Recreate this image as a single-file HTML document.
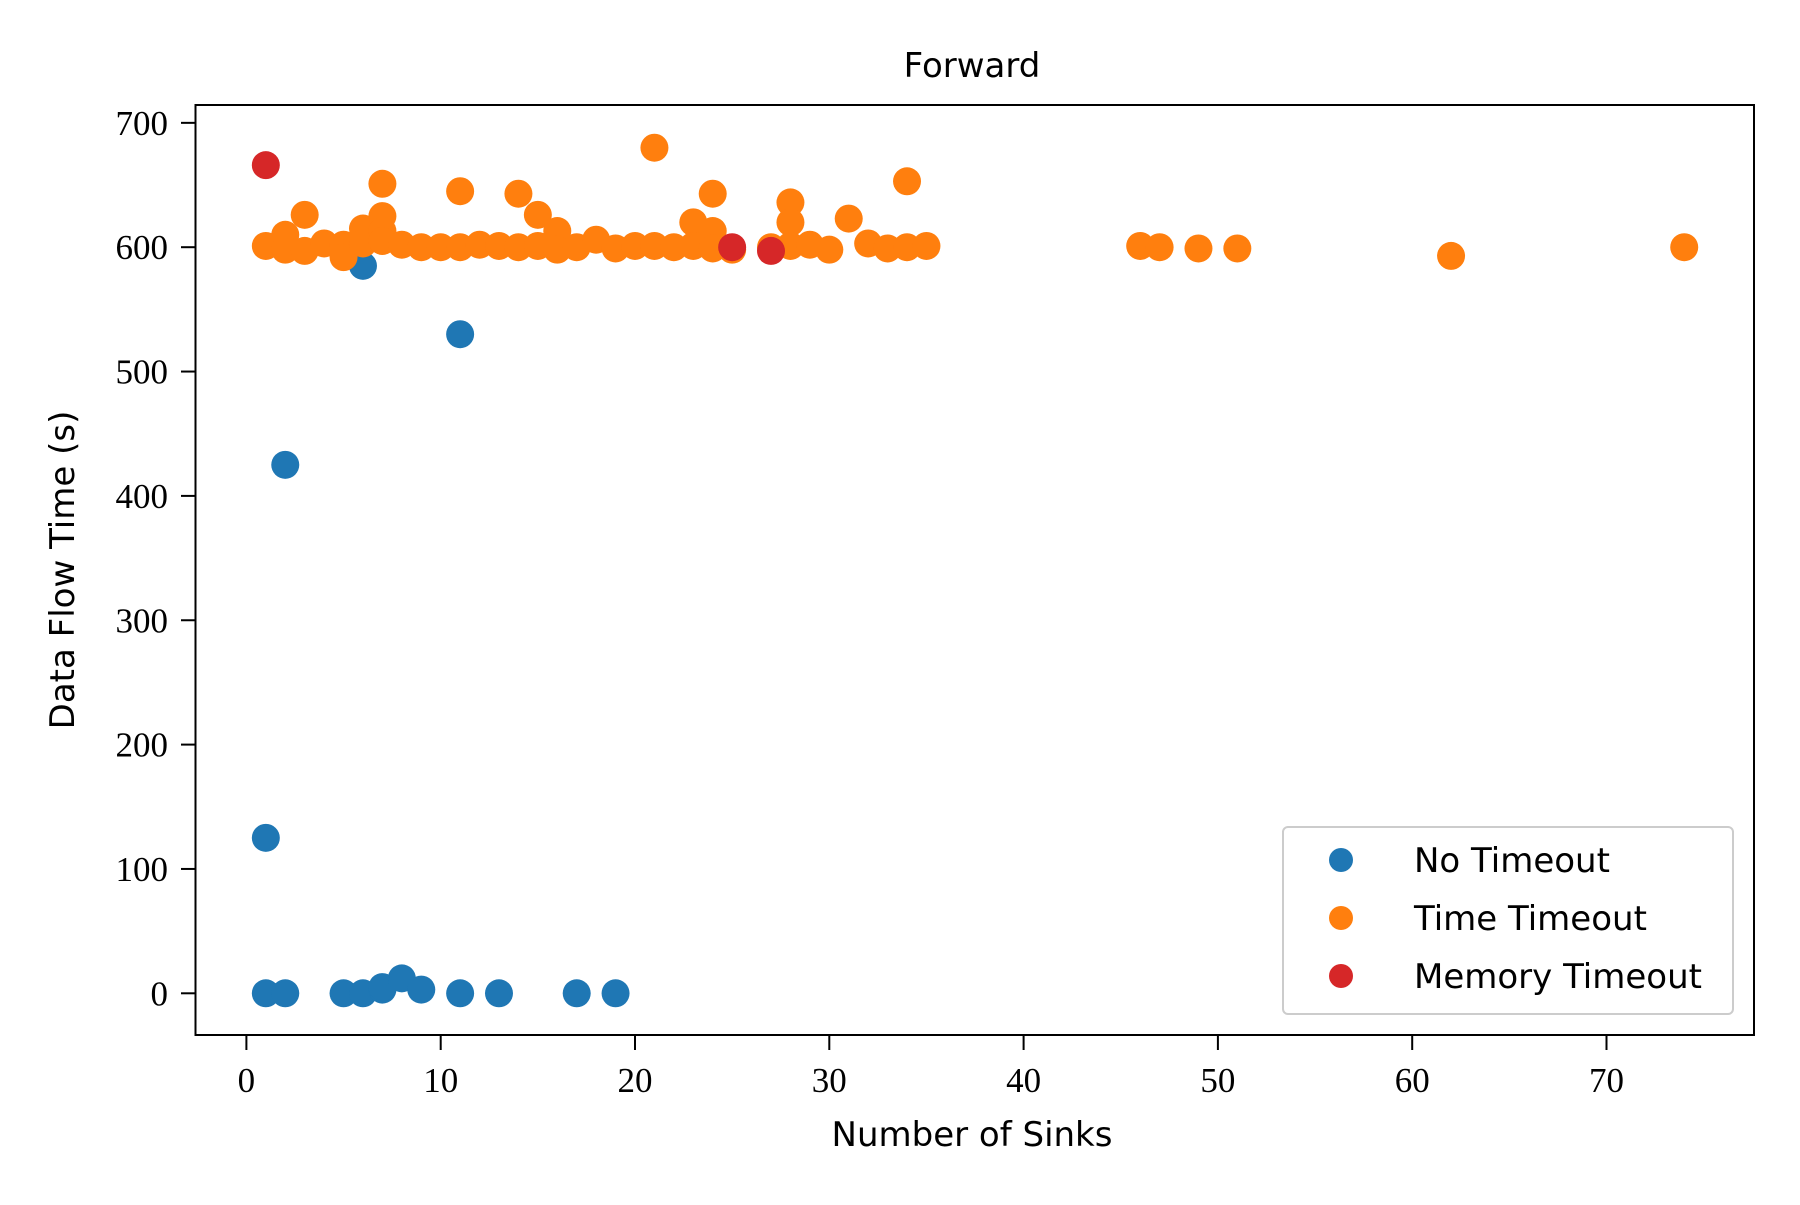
<!DOCTYPE html>
<html><head><meta charset="utf-8"><style>
html,body{margin:0;padding:0;background:#fff;}
svg text{fill:#000;}
.tick{font-family:"Liberation Serif",serif;font-size:35px;}
.lab{font-family:"DejaVu Sans","Liberation Sans",sans-serif;font-size:34px;}
</style></head><body>
<svg id="chart" width="1800" height="1200" viewBox="0 0 1800 1200" xmlns="http://www.w3.org/2000/svg">
<rect width="1800" height="1200" fill="#fff"/>
<g id="marks"></g>
<rect x="195.5" y="105" width="1558.5" height="930" fill="none" stroke="#000" stroke-width="2"/>
<g id="axes"></g>
<text class="lab" x="972" y="77" text-anchor="middle" font-size="42">Forward</text>
<text class="lab" x="972" y="1146" text-anchor="middle">Number of Sinks</text>
<text class="lab" transform="translate(74,570) rotate(-90)" text-anchor="middle">Data Flow Time (s)</text>
<g>
<rect x="1283" y="827" width="450" height="187" rx="5" fill="#fff" fill-opacity="0.8" stroke="#ccc" stroke-width="2"/>
<circle cx="1341" cy="860" r="12" fill="#1f77b4"/>
<text class="lab" x="1414" y="872">No Timeout</text>
<circle cx="1341" cy="918" r="12" fill="#ff7f0e"/>
<text class="lab" x="1414" y="930">Time Timeout</text>
<circle cx="1341" cy="976" r="12" fill="#d62728"/>
<text class="lab" x="1414" y="988">Memory Timeout</text>
</g>
</svg>
<script>
const blueX=[1,1,2,2,5,6,6,7,7,8,9,11,11,13,17,19];
const blueY=[125,0,0,425,0,0,585,3,5,12,3,0,530,0,0,0];
const orangeX=[1,2,2,3,3,4,5,5,6,6,7,7,7,7,8,9,10,11,11,12,13,14,14,15,15,16,16,17,18,19,20,21,21,22,23,23,24,24,24,25,27,28,28,28,29,30,31,32,33,34,34,35,46,47,49,51,62,74];
const orangeY=[601,610,598,626,597,603,602,592,615,603,651,625,613,605,602,600,600,645,600,602,601,643,600,626,601,613,598,600,606,599,601,680,601,600,620,601,643,613,599,598,600,636,620,601,602,598,623,603,599,653,600,601,601,600,599,599,593,600];
const redX=[1,25,27];
const redY=[666,600,597];
const xTicks=[0,10,20,30,40,50,60,70];
const yTicks=[0,100,200,300,400,500,600,700];

const NS="http://www.w3.org/2000/svg";
function sx(v){return 246.4+v*19.43;}
function sy(v){return 993.3-v*1.2435;}
const marks=document.getElementById('marks');
const axes=document.getElementById('axes');
function series(xs,ys,color,name){
  for(let i=0;i<xs.length;i++){
    const c=document.createElementNS(NS,'circle');
    c.setAttribute('cx',sx(xs[i]));c.setAttribute('cy',sy(ys[i]));
    c.setAttribute('r',14);c.setAttribute('fill',color);
    
    
    marks.appendChild(c);
  }
}
series(blueX,blueY,'#1f77b4','point-no-timeout');
series(orangeX,orangeY,'#ff7f0e','point-time-timeout');
series(redX,redY,'#d62728','point-memory-timeout');
xTicks.forEach(t=>{
  const l=document.createElementNS(NS,'line');
  l.setAttribute('x1',sx(t));l.setAttribute('x2',sx(t));l.setAttribute('y1',1035);l.setAttribute('y2',1050);
  l.setAttribute('stroke','#000');l.setAttribute('stroke-width',2);
  
  
  axes.appendChild(l);
  const tx=document.createElementNS(NS,'text');
  tx.setAttribute('x',sx(t));tx.setAttribute('y',1092);tx.setAttribute('text-anchor','middle');
  tx.setAttribute('class','tick');tx.textContent=t;
  
  
  axes.appendChild(tx);
});
yTicks.forEach(t=>{
  const l=document.createElementNS(NS,'line');
  l.setAttribute('x1',181);l.setAttribute('x2',195.5);l.setAttribute('y1',sy(t));l.setAttribute('y2',sy(t));
  l.setAttribute('stroke','#000');l.setAttribute('stroke-width',2);
  
  
  axes.appendChild(l);
  const tx=document.createElementNS(NS,'text');
  tx.setAttribute('x',168);tx.setAttribute('y',sy(t)+12);tx.setAttribute('text-anchor','end');
  tx.setAttribute('class','tick');tx.textContent=t;
  
  
  axes.appendChild(tx);
});
</script>
</body></html>
